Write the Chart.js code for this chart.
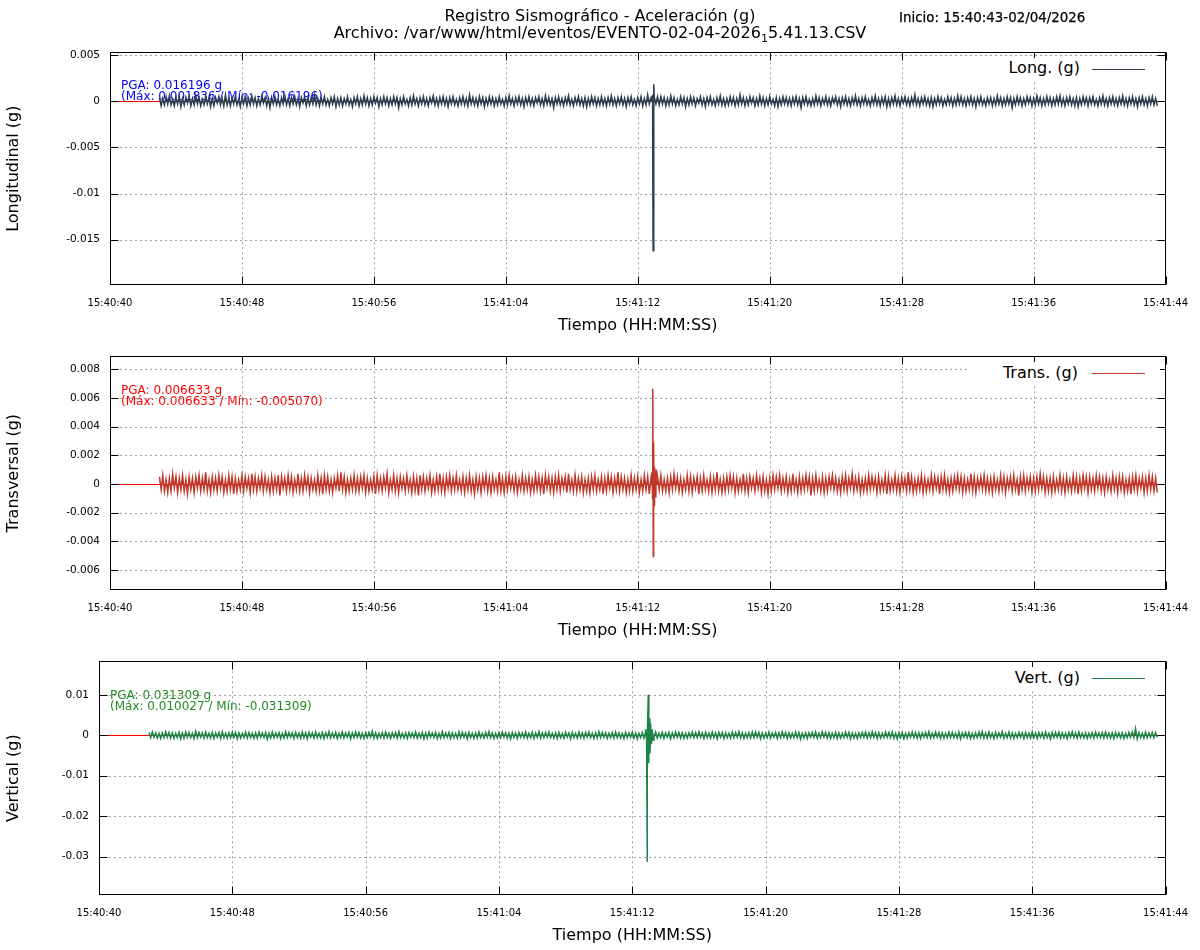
<!DOCTYPE html>
<html>
<head>
<meta charset="utf-8">
<script src="https://cdn.jsdelivr.net/npm/chart.js@4/dist/chart.umd.min.js"></script>
<style>
  body { margin: 0; background: #fff; font-family: 'DejaVu Sans', sans-serif; }
  #page { position: relative; width: 1200px; height: 950px; overflow: hidden; }
  canvas { position: absolute; left: 0; }
  .txt { position: absolute; white-space: nowrap; }
  .title { left: 0; width: 1200px; top: 7px; text-align: center; font-size: 16px; line-height: 17px; }
  .title sub { font-size: 11px; vertical-align: -4px; line-height: 0; }
  .inicio { left: 899px; top: 10px; font-size: 13.4px; -webkit-text-stroke: 0.25px #000; }
  .keybox { position: absolute; left: 968px; width: 192px; height: 22px; background: #fff; }
  .key { position: absolute; right: 120px; font-size: 16px; line-height: 20px; }
  .keyline { position: absolute; left: 1092px; width: 53px; height: 1px; }
</style>
</head>
<body>
<div id="page">
  <canvas id="cLong" width="1200" height="303" style="top:36px"></canvas>
  <canvas id="cTrans" width="1200" height="304" style="top:340px"></canvas>
  <canvas id="cVert" width="1200" height="304" style="top:645px"></canvas>

  <div class="txt title">Registro Sismográfico - Aceleración (g)<br>Archivo: /var/www/html/eventos/EVENTO-02-04-2026<sub>1</sub>5.41.13.CSV</div>
  <div class="txt inicio">Inicio: 15:40:43-02/04/2026</div>

  <div class="keybox" style="top:58px"></div>
  <div class="key" style="top:58px">Long. (g)</div>
  <div class="keyline" style="top:69px; background:#2c3e50"></div>

  <div class="keybox" style="top:362px"></div>
  <div class="key" style="top:363px; right:122px">Trans. (g)</div>
  <div class="keyline" style="top:373px; background:#c0392b"></div>

  <div class="keybox" style="top:667px"></div>
  <div class="key" style="top:668px">Vert. (g)</div>
  <div class="keyline" style="top:678px; background:#1e8449"></div>
</div>

<script>
// tiempo en segundos desde 15:40:40
const timeTicks = [0, 8, 16, 24, 32, 40, 48, 56, 64];
const timeLabels = ['15:40:40', '15:40:48', '15:40:56', '15:41:04', '15:41:12', '15:41:20', '15:41:28', '15:41:36', '15:41:44'];

// muestreo del ruido de fondo
const tStart = 3.0;   // 15:40:43
const dt = 0.1;
const unit = 1e-4;    // ruido en unidades de 1e-4 g

const longTicks = [0.005, 0, -0.005, -0.01, -0.015];
const transTicks = [0.008, 0.006, 0.004, 0.002, 0, -0.002, -0.004, -0.006];
const vertTicks = [0.01, 0, -0.01, -0.02, -0.03];

const longNoise = [
  4,-5,3,-4,5,-3,6,-4,2,-5,4,-3,5,-6,3,-4,4,-2,5,-5,
  3,-4,6,-3,4,-5,2,-4,5,-3,4,-6,3,-5,4,-2,5,-4,3,-5,
  7,-4,3,-5,4,-3,5,-4,2,-6,4,-3,5,-5,3,-4,6,-3,4,-5,
  3,-4,5,-2,4,-5,3,-7,4,-3,5,-4,2,-5,4,-3,6,-4,3,-5,
  4,-3,5,-4,3,-6,4,-2,5,-5,3,-4,4,-3,7,-4,3,-5,4,-3,
  5,-4,2,-5,4,-3,5,-6,3,-4,4,-5,3,-3,5,-4,2,-6,4,-3,
  5,-5,3,-4,6,-3,4,-5,3,-4,5,-2,4,-6,3,-4,5,-3,4,-5,
  3,-4,5,-3,4,-7,3,-4,5,-3,2,-5,4,-4,6,-3,3,-5,4,-3,
  5,-4,3,-5,4,-2,6,-4,3,-5,4,-3,5,-4,3,-6,4,-3,5,-4,
  2,-5,4,-3,5,-4,3,-5,7,-3,4,-4,3,-5,5,-3,4,-6,3,-4,
  5,-3,4,-5,3,-4,5,-3,2,-5,4,-4,6,-3,3,-5,4,-3,5,-4,
  3,-6,4,-3,5,-4,3,-5,4,-2,5,-4,3,-5,6,-3,4,-4,3,-7,
  4,-3,5,-4,3,-5,4,-3,6,-4,2,-5,4,-3,5,-4,3,-5,4,-6,
  3,-4,5,-3,4,-5,3,-4,5,-4,3,-5,4,-3,6,-4,3,-5,4,-3,
  5,-4,3,-6,4,-3,5,-4,2,-5,4,-3,5,-5,3,-4,7,-3,4,-5,
  4,-3,5,
  -4,5,-3,4,-5,3,-4,6,-3,4,-5,2,-4,5,-3,4,-6,3,-4,5,
  -3,4,-5,3,-2,5,-4,3,-6,4,-3,5,-4,2,-5,4,-3,6,-4,3,
  -5,3,-4,5,-3,4,-5,3,-4,7,-3,4,-5,3,-4,5,-2,4,-5,3,
  -4,6,-3,4,-5,3,-4,5,-3,2,-5,4,-6,3,-4,5,-3,4,-4,3,
  -5,4,-3,5,-4,3,-7,4,-3,5,-4,2,-5,3,-4,6,-3,4,-5,3,
  -3,5,-4,3,-5,4,-2,5,-4,3,-6,4,-3,5,-4,3,-5,4,-3,6,
  -4,3,-5,4,-3,5,-4,2,-5,4,-3,6,-4,3,-5,4,-3,5,-6,3,
  -5,4,-3,6,-4,3,-5,4,-2,5,-4,3,-5,4,-3,7,-4,3,-5,4,
  -3,5,-4,3,-5,4,-6,3,-4,5,-3,4,-5,2,-4,5,-3,4,-5,3,
  -4,6,-3,5,-4,3,-5,4,-3,5,-4,3,-6,4,-3,5,-4,2,-5,4,
  -3,4,-5,3,-4,6,-3,4,-5,3,-4,5,-3,4,-7,3,-4,5,-3,4,
  -5,3,-4,5,-2,4,-5,3,-4,6,-3,4,-5,3,-4,5,-3,4,-5,3,
  -4,5,-3,6,-4,3,-5,4,-3,5,-4,3,-5,4,-6,3,-4,5,-3,4,
  -5,4,-3,5,-4,2,-5,4,-3,6,-4,3,-5,4,-3,5,-4,3,-5,4,
  -3,6,-4,3,-5,4,-3,5,-4,3,-6,4,-3,5,-4,3,-5,4,-3,5,
  -4,3,-5
];
const longSpikeT = [32.90, 32.93, 32.97];
const longSpikeV = [0.0006, -0.016196, 0.001836];

const transNoise = [
  5,-4,6,-5,3,-6,4,-5,7,-3,5,-6,4,-4,6,-5,3,-7,5,-4,
  4,-6,5,-3,6,-5,4,-4,8,-5,3,-6,5,-4,4,-5,6,-3,5,-6,
  3,-5,6,-4,5,-7,4,-5,3,-4,6,-5,5,-3,4,-6,7,-4,5,-5,
  4,-3,6,-5,5,-4,3,-6,5,-5,4,-4,6,-8,5,-3,4,-5,6,-4,
  5,-6,3,-4,7,-5,4,-5,6,-3,5,-6,4,-4,3,-5,6,-5,4,-7,
  6,-4,5,-5,3,-6,4,-3,6,-5,8,-4,5,-6,3,-5,4,-4,6,-5,
  4,-5,5,-3,6,-6,4,-5,3,-4,5,-7,6,-4,4,-5,5,-3,7,-6,
  3,-4,6,-5,4,-6,5,-3,4,-5,6,-4,3,-6,5,-5,4,-8,6,-4,
  5,-5,4,-3,6,-6,3,-5,5,-4,7,-5,4,-6,5,-3,6,-5,4,-4,
  6,-4,3,-5,5,-6,4,-4,6,-5,3,-7,5,-4,4,-6,5,-3,6,-5,
  4,-6,5,-4,3,-5,8,-5,4,-6,5,-4,6,-3,4,-5,5,-6,3,-4,
  6,-5,4,-4,5,-6,3,-5,6,-4,5,-5,4,-7,6,-3,5,-5,4,-6,
  5,-4,6,-5,4,-3,5,-6,7,-4,3,-5,6,-5,4,-4,5,-6,3,-5,
  4,-6,5,-4,6,-5,3,-4,5,-7,4,-5,6,-3,5,-6,4,-4,8,-5,
  5,-4,4,-6,3,-5,6,-5,4,-4,5,-6,3,-5,6,-4,5,-7,4,-5,
  6,-4,5,
  -4,6,-5,3,-5,4,-6,5,-4,7,-3,5,-5,4,-6,3,-4,6,-5,5,
  -6,4,-3,5,-7,4,-5,6,-4,3,-5,5,-6,4,-4,8,-5,3,-6,4,
  -5,5,-4,6,-3,5,-6,4,-5,3,-4,7,-5,4,-6,5,-3,4,-5,6,
  -3,4,-6,5,-5,3,-7,4,-5,6,-4,5,-3,6,-5,4,-4,5,-6,3,
  -5,7,-4,3,-6,5,-5,4,-4,6,-3,5,-8,4,-5,6,-4,3,-5,5,
  -6,4,-5,5,-3,6,-4,4,-5,3,-6,5,-4,6,-5,4,-3,7,-5,4,
  -4,5,-6,3,-5,4,-5,6,-4,5,-3,4,-6,5,-5,3,-4,6,-7,5,
  -5,3,-4,6,-5,4,-6,5,-3,4,-5,8,-4,5,-6,3,-5,4,-4,6,
  -6,4,-5,3,-4,6,-5,5,-3,4,-7,5,-4,6,-5,3,-6,4,-5,5,
  -3,6,-4,5,-6,4,-5,3,-4,7,-5,5,-6,4,-3,5,-4,6,-5,4,
  -5,4,-6,5,-4,3,-5,6,-4,5,-6,4,-3,5,-5,6,-4,3,-8,5,
  -4,6,-5,4,-3,5,-6,4,-5,5,-4,7,-3,5,-6,4,-5,4,-6,5,
  -5,3,-4,6,-5,4,-6,5,-4,3,-5,6,-4,5,-7,4,-5,6,-3,5,
  -6,5,-4,4,-5,6,-3,5,-5,4,-6,5,-4,3,-5,6,-4,4,-6,5,
  -4,5,-6,3,-5,4,-7,5,-4,6,-5,4,-3,5,-6,4,-5,6,-4,5,
  -5,4,-6
];
const transSpikeT = [32.86, 32.90, 32.92, 32.94, 32.96, 32.99, 33.03, 33.07, 33.12];
const transSpikeV = [0.0008, -0.0010, 0.006633, -0.005070, 0.0029, -0.0015, 0.0012, -0.0009, 0.0010];

const vertNoise = [
  7,-6,8,-5,6,-7,5,-8,6,-6,9,-5,7,-7,6,-8,5,-6,7,-9,
  6,-7,8,-5,7,-6,5,-8,10,-6,7,-5,6,-7,8,-6,5,-7,7,-8,
  6,-5,7,-8,9,-6,5,-7,6,-6,8,-5,7,-9,6,-7,5,-6,8,-7,
  7,-6,5,-8,6,-7,8,-5,6,-6,7,-10,5,-7,8,-6,6,-5,7,-8,
  5,-7,9,-6,7,-5,6,-8,7,-6,5,-7,8,-6,6,-9,7,-5,6,-7,
  8,-6,5,-7,7,-8,6,-5,9,-7,6,-6,7,-8,5,-6,8,-7,6,-5,
  7,-9,6,-6,8,-5,7,-7,5,-8,6,-6,7,-5,10,-7,6,-8,5,-6,
  7,-7,8,-6,5,-8,6,-5,7,-7,9,-6,5,-7,6,-8,7,-5,6,-6,
  8,-7,5,-6,7,-9,6,-7,8,-5,6,-6,7,-8,5,-7,9,-6,6,-5,
  7,-8,6,-6,5,-7,8,-6,7,-5,6,-9,7,-6,5,-8,6,-7,8,-6,
  5,-7,7,-5,9,-6,6,-8,5,-7,7,-6,8,-5,6,-7,5,-9,7,-6,
  6,-8,7,-5,6,-6,8,-7,5,-6,7,-8,6,-5,9,-7,6,-6,7,-5,
  8,-6,5,-7,6,-8,7,-6,5,-7,8,-5,6,-9,7,-6,5,-7,8,-6,
  6,-7,7,-5,8,-6,5,-8,6,-7,9,-6,7,-5,6,-8,5,-6,7,-7,
  8,-6,6,-7,5,-8,7,-6,6,-5,8,-7,6,-9,5,-6,7,-7,8,-6,
  6,-5,7,
  -6,8,-7,5,-6,7,-8,6,-5,7,-9,6,-6,8,-5,7,-7,6,-8,5,
  -7,6,-5,8,-6,7,-6,9,-5,6,-8,7,-6,5,-7,8,-6,6,-9,7,
  -5,7,-8,6,-6,5,-7,8,-6,7,-5,9,-7,6,-8,5,-6,7,-7,8,
  -6,8,-5,7,-9,6,-7,5,-6,8,-7,6,-5,7,-8,6,-6,9,-5,7,
  -8,6,-7,5,-6,8,-6,7,-10,5,-7,6,-8,6,-5,7,-6,8,-7,5,
  -6,9,-5,7,-7,6,-8,5,-6,7,-8,6,-7,5,-6,8,-5,7,-9,6,
  -7,5,-8,6,-6,7,-5,8,-7,6,-6,9,-5,7,-8,6,-7,5,-6,8,
  -5,7,-6,8,-7,5,-9,6,-6,7,-8,5,-7,6,-5,8,-6,7,-7,6,
  -8,6,-5,7,-6,9,-7,5,-6,8,-5,7,-8,6,-7,5,-6,8,-6,7,
  -6,5,-7,8,-9,6,-5,7,-6,7,-8,5,-7,6,-6,8,-5,9,-7,6,
  -7,8,-6,5,-8,7,-6,6,-5,9,-7,5,-6,8,-7,6,-8,5,-6,7,
  -5,6,-8,7,-6,5,-7,9,-6,6,-8,7,-5,6,-7,8,-6,5,-9,7,
  -6,7,-5,8,-7,6,-6,5,-8,7,-5,9,-6,6,-7,8,-6,5,-7,6,
  -8,5,-6,7,-7,8,-5,6,-6,7,-7,8,-6,5,-7,6,-8,7,-5,6,
  -7,6,-8,5,-6,7,-5,8,-6,17,-9,7,-6,5,-7,8,-6,6,-5,7,
  -6,7,-5
];
const vertSpikeT = [32.80, 32.86, 32.90, 32.96, 32.99, 33.02, 33.06, 33.10, 33.15, 33.20, 33.26];
const vertSpikeV = [0.0015, -0.0012, -0.031309, 0.010027, -0.0069, 0.0042, -0.0045, 0.0030, -0.0022, 0.0015, -0.0012];

Chart.defaults.font.family = "'DejaVu Sans', sans-serif";
Chart.defaults.color = '#000';

function buildPoints(noise, spikeT, spikeV) {
  const pts = noise.map((v, i) => ({ x: tStart + i * dt, y: v * unit }));
  spikeT.forEach((t, i) => pts.push({ x: t, y: spikeV[i] }));
  pts.sort((a, b) => a.x - b.x);
  return pts;
}

// etiqueta PGA, rejilla punteada, eje cero, marco y marcas hacia dentro (estilo gnuplot)
const frame = {
  id: 'frame',
  beforeDatasetsDraw(chart, args, opts) {
    const { ctx, chartArea: a, scales: { x, y } } = chart;
    ctx.save();
    ctx.font = "12px 'DejaVu Sans'";
    ctx.fillStyle = opts.labelColor;
    ctx.textBaseline = 'middle';
    opts.labelLines.forEach((s, i) => ctx.fillText(s, opts.labelX, opts.labelY + i * 11));

    ctx.strokeStyle = '#a0a0a0';
    ctx.lineWidth = 1;
    ctx.setLineDash([2, 3]);
    x.ticks.forEach(t => {
      const px = Math.round(x.getPixelForValue(t.value)) + 0.5;
      if (px < a.left + 2 || px > a.right - 2) return;
      ctx.beginPath(); ctx.moveTo(px, a.top); ctx.lineTo(px, a.bottom); ctx.stroke();
    });
    y.ticks.forEach(t => {
      const py = Math.round(y.getPixelForValue(t.value)) + 0.5;
      if (py < a.top + 2 || py > a.bottom - 2) return;
      ctx.beginPath(); ctx.moveTo(a.left, py); ctx.lineTo(a.right, py); ctx.stroke();
    });
    ctx.setLineDash([]);
    const z = Math.round(y.getPixelForValue(0)) + 0.5;
    ctx.strokeStyle = '#ff0000';
    ctx.beginPath(); ctx.moveTo(a.left, z); ctx.lineTo(a.right, z); ctx.stroke();
    ctx.restore();
  },
  afterDatasetsDraw(chart) {
    const { ctx, chartArea: a, scales: { x, y } } = chart;
    const L = Math.round(a.left) + 0.5, R = Math.round(a.right) - 0.5;
    const T = Math.round(a.top) + 0.5, B = Math.round(a.bottom) - 0.5;
    ctx.save();
    ctx.strokeStyle = '#000';
    ctx.lineWidth = 1;
    ctx.strokeRect(L, T, R - L, B - T);
    const len = 8;
    ctx.beginPath();
    x.ticks.forEach(t => {
      const px = Math.round(x.getPixelForValue(t.value)) + 0.5;
      ctx.moveTo(px, B); ctx.lineTo(px, B - len);
      ctx.moveTo(px, T); ctx.lineTo(px, T + len);
    });
    y.ticks.forEach(t => {
      const py = Math.round(y.getPixelForValue(t.value)) + 0.5;
      ctx.moveTo(L, py); ctx.lineTo(L + len, py);
      ctx.moveTo(R, py); ctx.lineTo(R - len, py);
    });
    ctx.stroke();
    ctx.restore();
  }
};

function makePanel(id, points, color, yMin, yMax, yTicks, yTitle, leftWidth, label) {
  return new Chart(document.getElementById(id), {
    type: 'line',
    data: {
      datasets: [{
        data: points,
        borderColor: color,
        backgroundColor: color,
        borderWidth: 1.5,
        pointRadius: 0,
        tension: 0,
        fill: 'origin'
      }]
    },
    options: {
      responsive: false,
      animation: false,
      parsing: false,
      normalized: true,
      layout: { padding: { top: 0, right: 34, left: 0, bottom: 0 } },
      plugins: {
        legend: { display: false },
        tooltip: { enabled: false },
        frame: label
      },
      scales: {
        x: {
          type: 'linear',
          min: 0,
          max: 64,
          afterBuildTicks: s => { s.ticks = timeTicks.map(v => ({ value: v })); },
          afterFit: s => { s.height = 54; },
          grid: { display: false, drawTicks: false },
          border: { display: false },
          ticks: {
            autoSkip: false,
            maxRotation: 0,
            padding: 12,
            font: { size: 10 },
            callback: v => timeLabels[timeTicks.indexOf(v)]
          },
          title: { display: true, text: 'Tiempo (HH:MM:SS)', font: { size: 16 } }
        },
        y: {
          min: yMin,
          max: yMax,
          afterBuildTicks: s => { s.ticks = yTicks.map(v => ({ value: v })); },
          afterFit: s => { s.width = leftWidth; },
          grid: { display: false, drawTicks: false },
          border: { display: false },
          ticks: {
            padding: 10,
            font: { size: 10.5 },
            callback: v => String(v)
          },
          title: { display: true, text: yTitle, font: { size: 16 } }
        }
      }
    },
    plugins: [frame]
  });
}

// coordenadas de las etiquetas PGA relativas a cada lienzo
makePanel('cLong', buildPoints(longNoise, longSpikeT, longSpikeV), '#2c3e50',
  -0.0199, 0.0053, longTicks, 'Longitudinal (g)', 110,
  { labelColor: '#0000ff', labelX: 121, labelY: 50,
    labelLines: ['PGA: 0.016196 g', '(Máx: 0.001836 / Mín: -0.016196)'] });
makePanel('cTrans', buildPoints(transNoise, transSpikeT, transSpikeV), '#c0392b',
  -0.0074, 0.0089, transTicks, 'Transversal (g)', 110,
  { labelColor: '#ff0000', labelX: 121, labelY: 51,
    labelLines: ['PGA: 0.006633 g', '(Máx: 0.006633 / Mín: -0.005070)'] });
makePanel('cVert', buildPoints(vertNoise, vertSpikeT, vertSpikeV), '#1e8449',
  -0.0395, 0.0183, vertTicks, 'Vertical (g)', 99,
  { labelColor: '#228b22', labelX: 110, labelY: 50.5,
    labelLines: ['PGA: 0.031309 g', '(Máx: 0.010027 / Mín: -0.031309)'] });
</script>
</body>
</html>
